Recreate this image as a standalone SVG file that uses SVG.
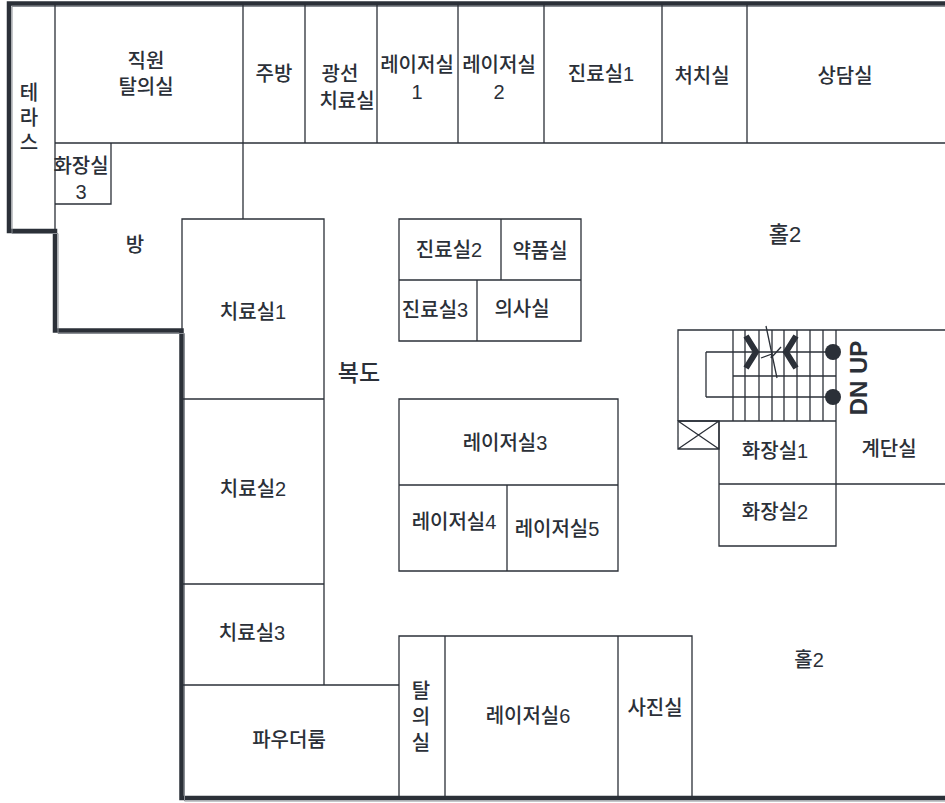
<svg xmlns="http://www.w3.org/2000/svg" width="945" height="803" viewBox="0 0 945 803">
<style>
.w{fill:none;stroke:#2b3038;stroke-width:1.3}
.o{fill:none;stroke:#2b3038;stroke-width:4.500}
.i{fill:none;stroke:#8a8e94;stroke-width:1}
.t{font-family:"Liberation Sans","Noto Sans CJK KR",sans-serif;font-weight:500;font-size:20px;fill:#2b3038;text-anchor:middle}
.c{fill:#2b3038}
</style>
<rect width="945" height="803" fill="#fff"/>
<g id="walls">
<path class="o" d="M945 3.500H9V231H55V330.500H181.500V798H945"/>
<path class="i" d="M945 6.500H12V233.500H58V333.500H184.500V801H945"/>
<path class="w" d="M55 3V232M243 3V219M305 3V143M377 3V143M458 3V143M544 3V143M662 3V143M747 3V143M55 143H945M55 204H111V143"/>
<path class="w" d="M182 330V219H324V685M182 399H324M182 584H324M182 685H399"/>
<path class="w" d="M399 219H581V341H399ZM399 280H581M501 219V280M477 280V341"/>
<path class="w" d="M399 399H618V571H399ZM399 485H618M507 485V571"/>
<path class="w" d="M399 797V636H692V797M445 636V797M618 636V797"/>
<path class="w" d="M719 421V546H836V421M719 484H945M836 484V546"/>
</g>
<g id="stairs">
<path class="w" d="M678 421V330H945M733 330V421M745 330V421M759 330V421M772 330V421M784 330V421M797 330V421M810 330V421M823 330V421M836 330V421M678 421H836M733 376H836M706 352H833M706 397H833M706 352V397"/>
<path class="w" d="M678 421H719V449H678ZM678 421L719 449M719 421L678 449"/>
<path class="w" d="M766 326L777 378M761 358L772 354L771 358L781 347"/>
<path d="M746 336L756 352L746 368" fill="none" stroke="#2b3038" stroke-width="6"/>
<path d="M796 336L786 352L796 368" fill="none" stroke="#2b3038" stroke-width="6"/>
<circle class="c" cx="833" cy="352" r="8"/>
<circle class="c" cx="833" cy="397" r="8"/>
<text class="t" transform="translate(867 378) rotate(-90)" style="font-weight:700;font-size:24px">DN UP</text>
</g>
<g id="labels" transform="translate(0 2)">
<text class="t"><tspan x="29" y="98">테</tspan><tspan x="29" y="123">라</tspan><tspan x="29" y="148">스</tspan></text>
<text class="t"><tspan x="146" y="66">직원</tspan><tspan x="146" y="92">탈의실</tspan></text>
<text class="t"><tspan x="81" y="171">화장실</tspan><tspan x="81" y="197">3</tspan></text>
<text class="t" x="135" y="250">방</text>
<text class="t" x="274" y="79">주방</text>
<text class="t"><tspan x="340" y="79">광선</tspan><tspan x="347" y="106">치료실</tspan></text>
<text class="t"><tspan x="417" y="70">레이저실</tspan><tspan x="417" y="97">1</tspan></text>
<text class="t"><tspan x="499" y="70">레이저실</tspan><tspan x="499" y="97">2</tspan></text>
<text class="t" x="601" y="79">진료실1</text>
<text class="t" x="702" y="81">처치실</text>
<text class="t" x="845" y="81">상담실</text>
<text class="t" x="785" y="240" style="font-size:22px">홀2</text>
<text class="t" x="449" y="255">진료실2</text>
<text class="t" x="540" y="256">약품실</text>
<text class="t" x="435" y="315">진료실3</text>
<text class="t" x="522" y="314">의사실</text>
<text class="t" x="253" y="317">치료실1</text>
<text class="t" x="359" y="379" style="font-size:23px">복도</text>
<text class="t" x="505" y="448">레이저실3</text>
<text class="t" x="889" y="454">계단실</text>
<text class="t" x="775" y="456">화장실1</text>
<text class="t" x="775" y="517">화장실2</text>
<text class="t" x="253" y="494">치료실2</text>
<text class="t" x="454" y="527">레이저실4</text>
<text class="t" x="557" y="534">레이저실5</text>
<text class="t" x="252" y="638">치료실3</text>
<text class="t" x="809" y="665">홀2</text>
<text class="t"><tspan x="421" y="696">탈</tspan><tspan x="421" y="722">의</tspan><tspan x="421" y="748">실</tspan></text>
<text class="t" x="528" y="721">레이저실6</text>
<text class="t" x="655" y="713">사진실</text>
<text class="t" x="289" y="745">파우더룸</text>
</g>
</svg>
